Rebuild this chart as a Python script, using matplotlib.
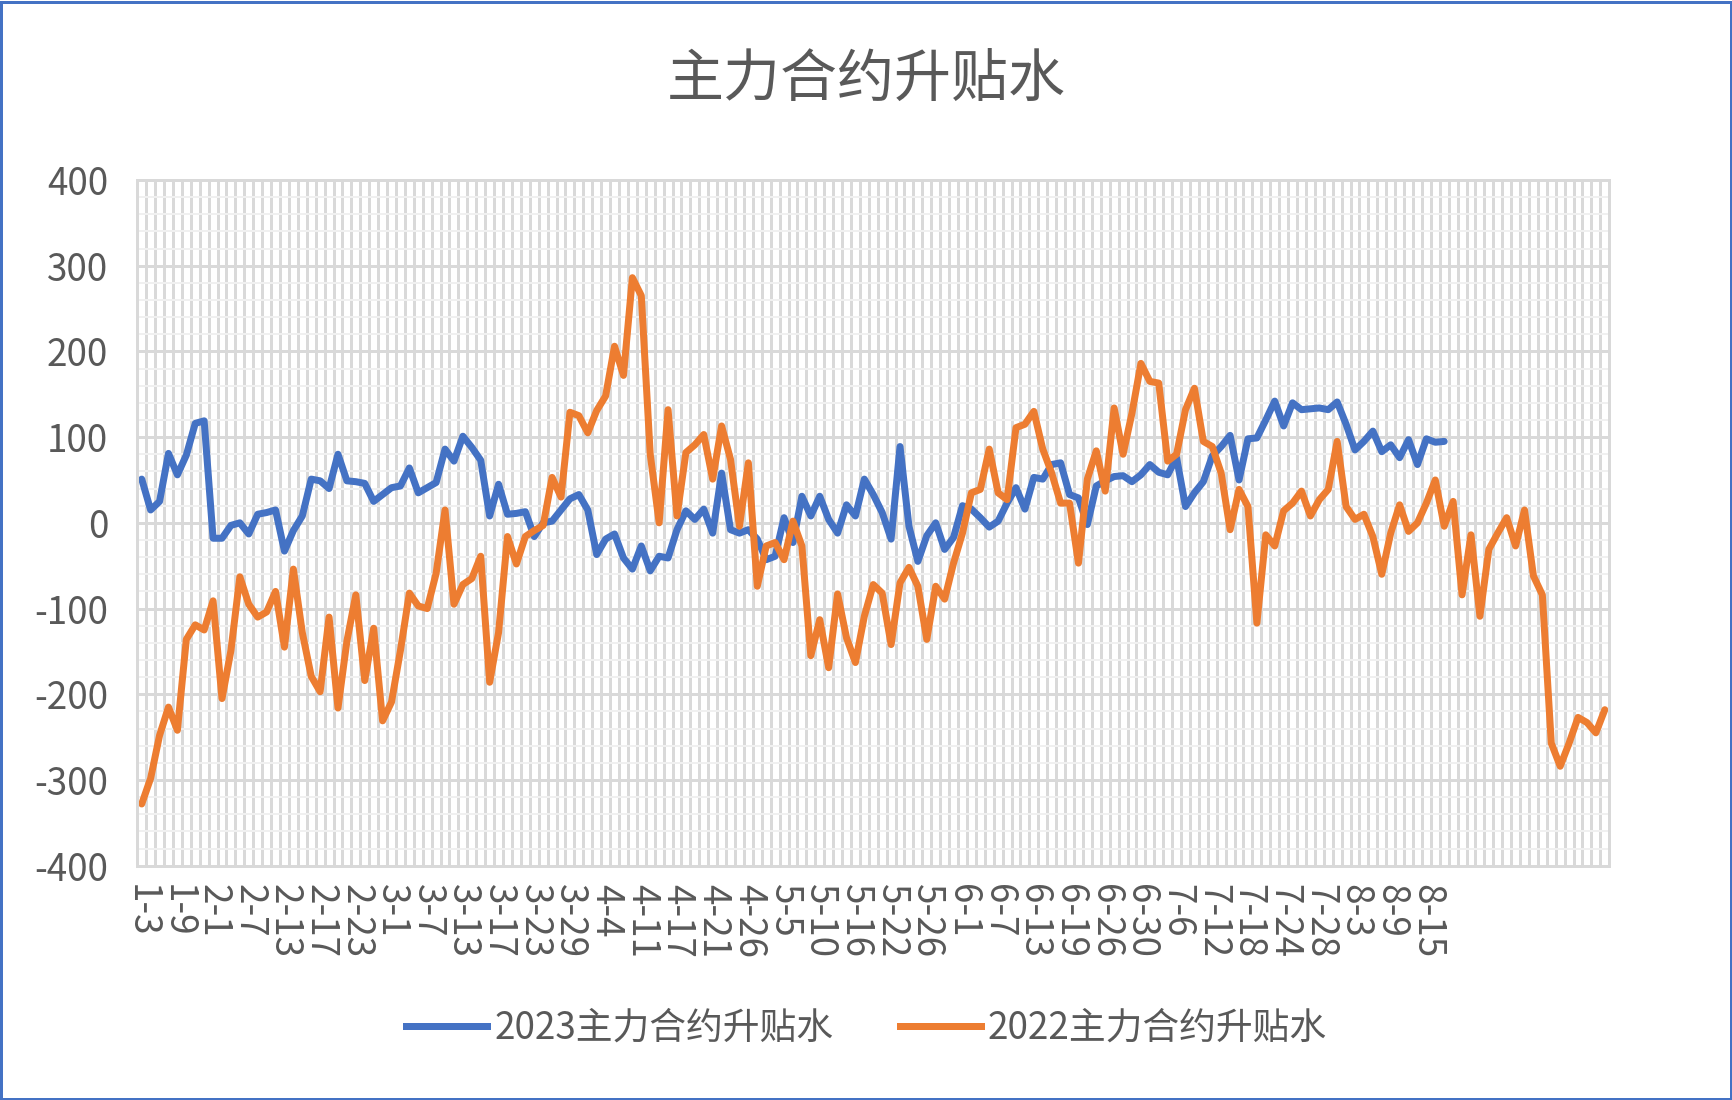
import numpy as np
import matplotlib
matplotlib.use('Agg')
import matplotlib.pyplot as plt
from matplotlib.patches import Rectangle
from matplotlib.lines import Line2D

plt.rcParams['font.family'] = ['Noto Sans CJK SC', 'DejaVu Sans']
plt.rcParams['axes.unicode_minus'] = False

title = '主力合约升贴水'
name_2023 = '2023主力合约升贴水'
name_2022 = '2022主力合约升贴水'

# every 4th category carries a label; the rest of the category cells are blank
date_labels = ['1-3', '1-9', '2-1', '2-7', '2-13', '2-17', '2-23', '3-1', '3-7',
               '3-13', '3-17', '3-23', '3-29', '4-4', '4-11', '4-17', '4-21',
               '4-26', '5-5', '5-10', '5-16', '5-22', '5-26', '6-1', '6-7',
               '6-13', '6-19', '6-26', '6-30', '7-6', '7-12', '7-18', '7-24',
               '7-28', '8-3', '8-9', '8-15']
label_step = 4
n_categories = 165

basis_2023 = [51, 15, 25, 81, 56, 79, 116, 119, -18, -18,
              -3, 0, -13, 10, 12, 15, -33, -9, 8, 51,
              49, 40, 80, 49, 48, 46, 25, 33, 41, 43,
              64, 35, 41, 47, 86, 72, 101, 88, 73, 8,
              45, 10, 11, 13, -16, 0, 2, 15, 28, 33,
              15, -37, -19, -13, -41, -54, -27, -56, -39, -41,
              -8, 14, 4, 16, -12, 58, -8, -12, -8, -19,
              -43, -39, 6, -23, 31, 8, 31, 4, -12, 21,
              8, 51, 33, 12, -19, 89, -4, -45, -15, 0,
              -31, -17, 20, 16, 6, -5, 2, 23, 41, 16,
              53, 51, 68, 70, 33, 29, -2, 43, 49, 54,
              55, 48, 56, 68, 59, 56, 76, 19, 35, 48,
              78, 89, 102, 50, 98, 99, 120, 142, 113, 140,
              132, 133, 134, 132, 141, 115, 85, 95, 107, 83,
              91, 76, 97, 68, 98, 94, 95]

basis_2022 = [-328, -298, -248, -215, -242, -136, -119, -125, -91, -205,
              -149, -63, -95, -110, -104, -80, -145, -54, -128, -179,
              -197, -110, -216, -138, -84, -184, -123, -231, -209, -149,
              -82, -97, -100, -59, 15, -95, -72, -65, -39, -186,
              -128, -16, -48, -16, -9, -3, 53, 30, 129, 125,
              105, 131, 148, 206, 172, 286, 265, 80, 0, 132,
              8, 82, 91, 103, 51, 113, 74, -4, 70, -74,
              -27, -23, -43, 2, -27, -155, -113, -169, -83, -134,
              -163, -109, -72, -82, -142, -70, -52, -74, -136, -74,
              -89, -47, -12, 35, 39, 86, 35, 27, 111, 115,
              130, 86, 58, 23, 23, -47, 51, 84, 37, 134,
              80, 128, 186, 165, 163, 72, 80, 132, 157, 95,
              89, 58, -8, 39, 19, -117, -14, -27, 14, 23,
              37, 8, 27, 39, 95, 19, 4, 10, -16, -60,
              -12, 21, -10, 0, 23, 50, -4, 25, -84, -14,
              -109, -31, -12, 6, -27, 15, -62, -84, -257, -284,
              -257, -227, -233, -245, -218]

blue = '#4472C4'
orange = '#ED7D31'
grey_text = '#595959'
grid_major = '#D9D9D9'
grid_minor = '#F0F0F0'
px = 72 / 100

fig = plt.figure(figsize=(17.33, 11), dpi=100)
ax = fig.add_axes([0.0792, 0.2130, 0.8494, 0.6234])

x23 = np.arange(len(basis_2023))
x22 = np.arange(len(basis_2022))
line_kw = dict(lw=7 * px, solid_joinstyle='round', solid_capstyle='round')
ax.plot(x23, basis_2023, color=blue, **line_kw)
ax.plot(x22, basis_2022, color=orange, **line_kw)

ax.set_xlim(-0.5, n_categories - 0.5)
ax.set_ylim(-400, 400)
ax.set_yticks(np.arange(-400, 401, 100))
ax.set_yticks(np.arange(-400, 401, 20), minor=True)
ax.set_xticks(np.arange(len(date_labels)) * label_step)
ax.set_xticklabels(date_labels, rotation=-90, ha='center', va='top')
ax.set_xticks(np.arange(-0.5, n_categories, 1), minor=True)

ax.set_axisbelow(True)
ax.grid(False)
ax.grid(which='minor', axis='y', color=grid_minor, lw=2 * px)
ax.grid(which='major', axis='y', color=grid_major, lw=3 * px)
ax.grid(which='minor', axis='x', color=grid_major, lw=3 * px)
for s in ax.spines.values():
    s.set_color(grid_major)
    s.set_linewidth(3 * px)

ax.tick_params(which='both', length=0)
ax.tick_params(axis='y', pad=21, labelsize=26.5, labelcolor=grey_text)
ax.tick_params(axis='x', pad=13, labelsize=26.5, labelcolor=grey_text)

fig.text(0.5, 1 - 80 / 1100, title, ha='center', va='center',
         fontsize=41, color=grey_text)

handles = [Line2D([], [], color=blue, lw=7 * px),
           Line2D([], [], color=orange, lw=7 * px)]
fig.legend(handles, [name_2023, name_2022], loc='center',
           bbox_to_anchor=(0.5, 1 - 1028 / 1100), ncol=2, frameon=False,
           fontsize=26.5, labelcolor=grey_text, handlelength=2.2,
           handletextpad=0.2, columnspacing=1.8)

fig.patches.append(Rectangle((1.5 / 1733, 1.5 / 1100), 1 - 3 / 1733, 1 - 3 / 1100,
                             transform=fig.transFigure, fill=False,
                             edgecolor=blue, lw=3 * px))

fig.savefig('out.png', dpi=100)
